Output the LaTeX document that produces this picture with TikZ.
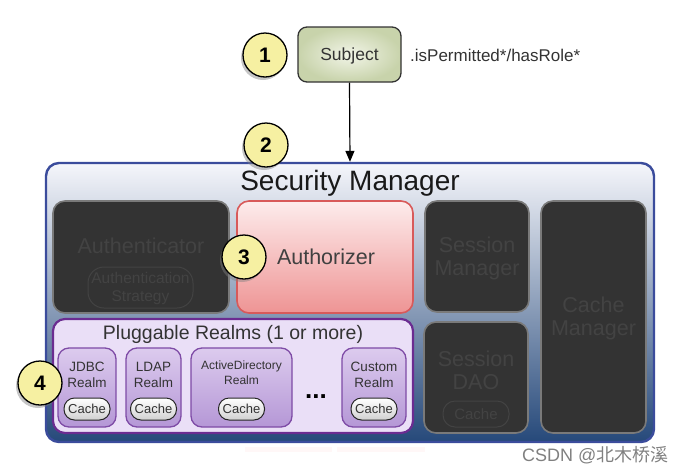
\documentclass[tikz,border=0pt]{standalone}
\usepackage{fontspec}
\setmainfont{Liberation Sans}
\newfontfamily\cjk{Noto Sans CJK SC}
\usetikzlibrary{arrows.meta,shadows}
\definecolor{smborder}{HTML}{3B4C9C}
\definecolor{smtop}{HTML}{F5F6FB}
\definecolor{smmid}{HTML}{BCC8DC}
\definecolor{smbot}{HTML}{26497A}
\definecolor{darkfill}{HTML}{333333}
\definecolor{darkedge}{HTML}{7A7A7A}
\definecolor{darktext}{HTML}{434343}
\definecolor{authtop}{HTML}{FDECEC}
\definecolor{authbot}{HTML}{EE9494}
\definecolor{authedge}{HTML}{D85A5A}
\definecolor{plugfill}{HTML}{EADFF7}
\definecolor{plugedge}{HTML}{6B2C91}
\definecolor{realmtop}{HTML}{DCCBEE}
\definecolor{realmbot}{HTML}{B597D6}
\definecolor{realmedge}{HTML}{7E4BA6}
\definecolor{subjin}{HTML}{F2F5E8}
\definecolor{subjout}{HTML}{C8D3AB}
\definecolor{yellowc}{HTML}{F6F0A2}
\definecolor{txt}{HTML}{333333}
\tikzset{
  numc/.style={circle, draw=black, line width=1.3pt, fill=yellowc, minimum size=44pt,
    inner sep=0pt, font=\fontsize{21}{21}\selectfont\bfseries,
    drop shadow={shadow xshift=-2pt, shadow yshift=-3pt, opacity=0.45}},
  darkbox/.style={draw=darkedge, line width=1.6pt, fill=darkfill, rounded corners=12pt, inner sep=0pt},
  darktxt/.style={text=darktext, font=\fontsize{21.5}{23}\selectfont, align=center, inner sep=0pt},
  realmbox/.style={draw=realmedge, line width=1.3pt, top color=realmtop, bottom color=realmbot,
    rounded corners=11pt, minimum height=79pt, inner sep=0pt},
  realmtxt/.style={text=txt, font=\fontsize{13.5}{16}\selectfont, align=center, inner sep=0pt},
  pill/.style={draw=black!85, line width=1pt, top color=white, bottom color=black!18,
    rounded corners=10.5pt, minimum width=46pt, minimum height=22pt, inner sep=0pt,
    font=\fontsize{13}{13}\selectfont, text=txt},
}
\begin{document}
\begin{tikzpicture}[x=1pt,y=-1pt]
\useasboundingbox (0,0) rectangle (688,472);
% faint reflections below
\fill[red!3] (245,447) rectangle (332,452);
\fill[red!3] (337,447) rectangle (425,452);
% Subject
\node[draw=black!80, line width=1.3pt, rounded corners=9pt, inner color=subjin, outer color=subjout,
  minimum width=103pt, minimum height=55pt, text depth=0pt, font=\fontsize{17.5}{17}\selectfont, text=txt] (subject) at (349.5,54.5) {Subject};
\node[anchor=west, inner sep=0pt, font=\fontsize{17}{17}\selectfont, text=txt] (perm) at (410,55) {.isPermitted*/hasRole*};
\node[numc] (c1) at (265,55) {1};
% Security Manager
\node[draw=smborder, line width=2.4pt, rounded corners=13pt, top color=smtop, middle color=smmid, bottom color=smbot,
  shading angle=0, minimum width=608pt, minimum height=279pt, inner sep=0pt] (sm) at (350,302.5) {};
\node[inner sep=0pt, font=\fontsize{28}{28}\selectfont, text=black!90] (smtitle) at (350,183) {Security Manager};
\draw[line width=1.2pt, -{Triangle[length=11pt,width=9pt]}] (subject.south) -- (sm.north);
\node[numc] (c2) at (266,145) {2};
% Authenticator
\node[darkbox, minimum width=176pt, minimum height=112pt] (authn) at (141,257) {};
\node[darktxt] (authntxt) at (141,246) {Authenticator};
\node[draw=darktext, line width=1pt, rounded corners=16pt, minimum width=105pt, minimum height=41pt, inner sep=0pt] (strat) at (140.5,287.5) {};
\node[text=darktext, font=\fontsize{15.5}{18}\selectfont, align=center, inner sep=0pt] (strattxt) at (140.5,288) {Authentication\\Strategy};
% Authorizer
\node[draw=authedge, line width=1.6pt, rounded corners=12pt, top color=authtop, bottom color=authbot,
  minimum width=176pt, minimum height=112pt, font=\fontsize{21.5}{23}\selectfont, text=black!75] (authz) at (325,257) {\hspace*{2pt}Authorizer};
\node[numc] (c3) at (244,257) {3};
% Session Manager
\node[darkbox, minimum width=104pt, minimum height=111pt] (sessmgr) at (477,256.5) {};
\node[darktxt] (sessmgrtxt) at (477,258) {Session\\Manager};
% Cache Manager
\node[darkbox, minimum width=105pt, minimum height=232pt] (cachemgr) at (593.5,317) {};
\node[darktxt] (cachemgrtxt) at (593.5,318) {Cache\\Manager};
% Session DAO
\node[darkbox, minimum width=104pt, minimum height=111pt] (sessdao) at (476,377.5) {};
\node[darktxt] (sessdaotxt) at (476,370) {Session\\DAO};
\node[draw=darktext, line width=1pt, rounded corners=12pt, minimum width=66pt, minimum height=26pt, inner sep=0pt,
  text=darktext, font=\fontsize{15}{15}\selectfont] (daocache) at (476,414) {Cache};
% Pluggable Realms
\node[draw=plugedge, line width=2.2pt, rounded corners=12pt, fill=plugfill, minimum width=360pt, minimum height=114pt, inner sep=0pt] (realms) at (233,376) {};
\node[inner sep=0pt, font=\fontsize{19.5}{20}\selectfont, text=txt] (realmstitle) at (233,334) {Pluggable Realms (1 or more)};
\node[realmbox, minimum width=58pt] (jdbc) at (87,387.5) {};
\node[realmtxt] (jdbctxt) at (87,375) {JDBC\\Realm};
\node[pill] (jdbccache) at (87,409) {Cache};
\node[realmbox, minimum width=55pt] (ldap) at (153.5,387.5) {};
\node[realmtxt] (ldaptxt) at (153.5,375) {LDAP\\Realm};
\node[pill] (ldapcache) at (153.5,409) {Cache};
\node[realmbox, minimum width=101pt] (ad) at (241.5,387.5) {};
\node[realmtxt, font=\fontsize{12}{15}\selectfont] (adtxt) at (241.5,373) {ActiveDirectory\\Realm};
\node[pill] (adcache) at (241.5,409) {Cache};
\node[realmbox, minimum width=64pt] (custom) at (374,387.5) {};
\node[realmtxt] (customtxt) at (374,375) {Custom\\Realm};
\node[pill] (customcache) at (374,409) {Cache};
\node[inner sep=0pt, font=\fontsize{26}{26}\selectfont\bfseries] (dots) at (316,397) {...};
\node[numc] (c4) at (40,383) {4};
% watermark
\node[anchor=west, inner sep=0pt, text=black!50, font=\fontsize{18}{18}\selectfont] (wm) at (522,455) {CSDN @{\cjk 北木桥溪}};
\end{tikzpicture}
\end{document}
